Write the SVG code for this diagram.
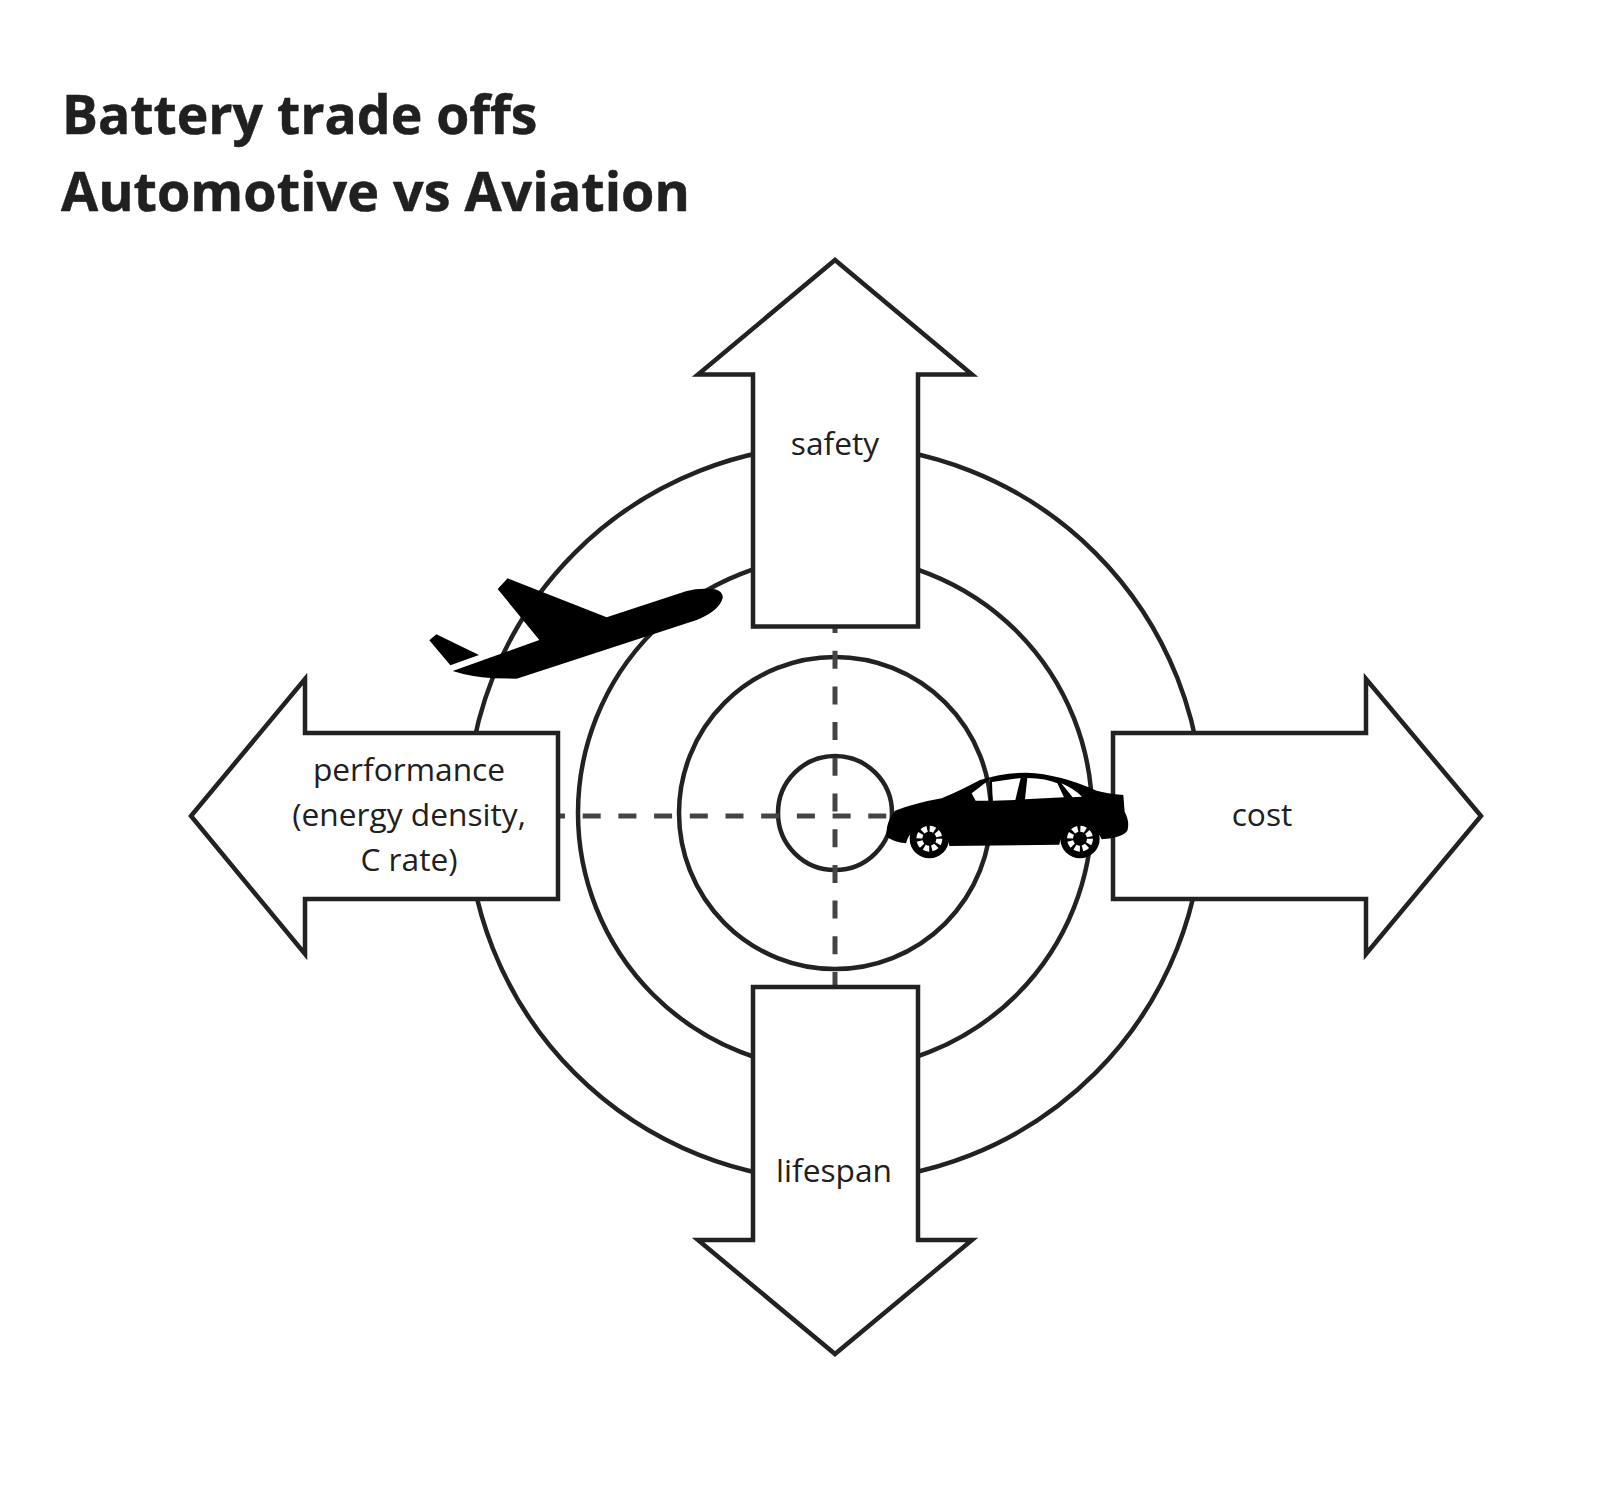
<svg xmlns="http://www.w3.org/2000/svg" width="1600" height="1505" viewBox="0 0 1600 1505">
<style>
.ring{fill:none;stroke:#222;stroke-width:4.500}
.arrow{fill:#fff;stroke:#222;stroke-width:4.500}
.dash{fill:none;stroke:#444;stroke-width:5;stroke-dasharray:18 17.700}
.title{font:700 53.500px "Open Sans","Noto Sans",sans-serif;fill:#202020;stroke:#202020;stroke-width:.5}
.label{font:400 31.700px "Open Sans","Noto Sans",sans-serif;fill:#202020;text-anchor:middle}
.hub{fill:none;stroke:#fff;stroke-width:18;stroke-dasharray:15.600 8}
</style>
<rect width="1600" height="1505" fill="#fff"/>
<g id="title"><text class="title" x="62" y="134">Battery trade offs</text><text class="title" x="61" y="210.500" style="font-size:53.900px">Automotive vs Aviation</text></g>
<g id="rings"><circle class="ring" cx="835" cy="813" r="368"/><circle class="ring" cx="835" cy="813" r="257"/><circle class="ring" cx="835" cy="813" r="156"/><circle class="ring" cx="835" cy="813" r="57"/></g>
<g id="connectors"><path class="dash" d="M547 816H890"/><path class="dash" d="M835 615V987"/></g>
<g id="safety"><path class="arrow" d="M835 260L972 374.500H918V626.500H753V374.500H698Z"/><text class="label" x="835" y="455">safety</text></g>
<g id="lifespan"><path class="arrow" d="M835 1354L972 1240H918V987H753V1240H698Z"/><text class="label" x="834" y="1182">lifespan</text></g>
<g id="performance"><path class="arrow" d="M191 816L305 679V733H558V899H305V954Z"/><text class="label" x="409" y="781">performance</text><text class="label" x="409" y="826">(energy density,</text><text class="label" x="409" y="871">C rate)</text></g>
<g id="cost"><path class="arrow" d="M1481 816L1366 679V733H1113V899H1366V954Z"/><text class="label" x="1262" y="826">cost</text></g>
<g id="plane" transform="translate(410 560) scale(.33333)"><path d="M58 241L79 223L207 285L121 316ZM128 333L388 240L263 87L293 55L590 172L830 93Q870 82 915 88Q940 95 938 115Q925 155 860 180L320 356L250 355Q180 350 128 333Z"/></g>
<g id="car" transform="translate(870 760) scale(.33333)"><path fill-rule="evenodd" d="M75 152Q140 128 215 115Q270 92 330 60Q400 38 470 38Q570 42 680 92Q710 100 760 105L764 155Q780 185 772 212Q760 232 695 238A66 66 0 0 0 568 254L238 258A66 66 0 0 0 108 250Q70 245 50 230Q45 190 75 152ZM305 100L360 58L357 122L317 122ZM366 66L452 54L436 120L368 122ZM472 54Q530 55 562 70L582 112L465 118ZM574 70Q610 85 636 110L608 112Z"/><circle cx="178" cy="236" r="59"/><circle cx="630" cy="236" r="59"/><circle class="hub" cx="178" cy="236" r="30"/><circle class="hub" cx="630" cy="236" r="30"/></g>
</svg>
